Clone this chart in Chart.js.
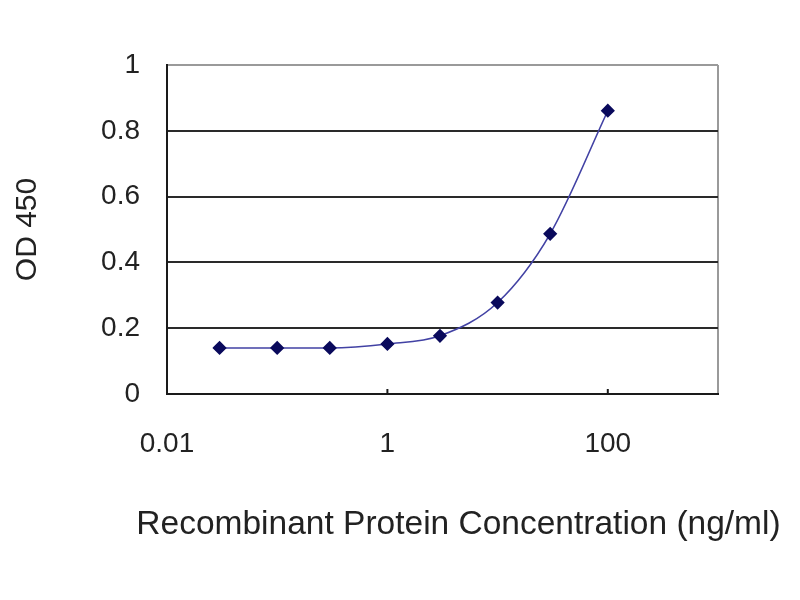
<!DOCTYPE html>
<html>
<head>
<meta charset="utf-8">
<script src="https://cdn.jsdelivr.net/npm/chart.js@4"></script>
<style>
  html, body { margin: 0; padding: 0; background: #fff; }
  #wrap { width: 800px; height: 600px; }
</style>
</head>
<body>
<div id="wrap"><canvas id="c" width="800" height="600"></canvas></div>
<script>
const concentrations = [0.03, 0.1, 0.3, 1, 3, 10, 30, 100];
const od450 = [0.14, 0.14, 0.14, 0.152, 0.177, 0.278, 0.487, 0.861];
const xTickValues = [0.01, 0.1, 1, 10, 100, 1000];
const xTickLabels = ['0.01', '', '1', '', '100', ''];
const yTickValues = [0, 0.2, 0.4, 0.6, 0.8, 1];
const yTickLabels = ['0', '0.2', '0.4', '0.6', '0.8', '1'];
const xTitle = 'Recombinant Protein Concentration (ng/ml)';
const yTitle = 'OD 450';

const points = concentrations.map((x, i) => ({ x: x, y: od450[i] }));

// x-axis title drawn a little right of the plot centre, as in the original
const xTitlePlugin = {
  id: 'xTitlePlugin',
  afterDraw(chart) {
    const { ctx, chartArea } = chart;
    ctx.save();
    ctx.font = '33.5px "Liberation Sans", Arial, sans-serif';
    ctx.fillStyle = '#222';
    ctx.textAlign = 'center';
    ctx.textBaseline = 'middle';
    ctx.fillText(xTitle, (chartArea.left + chartArea.right) / 2 + 16, chartArea.bottom + 131);
    ctx.restore();
  }
};

// small inward tick marks on the x axis at labelled decades
const xTickMarks = {
  id: 'xTickMarks',
  afterDraw(chart) {
    const { ctx, chartArea, scales } = chart;
    ctx.save();
    ctx.strokeStyle = '#1a1a1a';
    ctx.lineWidth = 2;
    xTickValues.forEach((v, i) => {
      if (!xTickLabels[i]) return;
      const px = scales.x.getPixelForValue(v);
      ctx.beginPath();
      ctx.moveTo(px, chartArea.bottom);
      ctx.lineTo(px, chartArea.bottom - 5);
      ctx.stroke();
    });
    ctx.restore();
  }
};

new Chart(document.getElementById('c'), {
  type: 'line',
  data: {
    datasets: [{
      data: points,
      borderColor: '#4242a4',
      borderWidth: 1.6,
      backgroundColor: '#0a0a5c',
      pointBackgroundColor: '#0a0a5c',
      pointBorderColor: '#0a0a5c',
      pointStyle: 'rectRot',
      pointRadius: 6,
      cubicInterpolationMode: 'monotone',
      fill: false
    }]
  },
  plugins: [xTitlePlugin, xTickMarks],
  options: {
    responsive: false,
    animation: false,
    layout: { padding: { top: 65, right: 82, left: 0, bottom: 0 } },
    plugins: { legend: { display: false }, tooltip: { enabled: false } },
    scales: {
      x: {
        type: 'logarithmic',
        min: 0.01,
        max: 1000,
        afterBuildTicks: (s) => { s.ticks = xTickValues.map(v => ({ value: v })); },
        afterFit: (s) => { s.height = 206; },
        ticks: {
          autoSkip: false,
          maxRotation: 0,
          padding: 33,
          color: '#222',
          font: { family: 'Liberation Sans', size: 28 },
          callback: (v) => { const i = xTickValues.indexOf(v); return i >= 0 ? xTickLabels[i] : ''; }
        },
        grid: {
          drawTicks: false,
          color: (ctx) => (ctx.tick && ctx.tick.value === 1000) ? '#9a9a9a' : 'rgba(0,0,0,0)',
          lineWidth: 2
        },
        border: { display: true, color: '#1a1a1a', width: 2 },
        title: { display: false }
      },
      y: {
        type: 'linear',
        min: 0,
        max: 1,
        afterBuildTicks: (s) => { s.ticks = yTickValues.map(v => ({ value: v })); },
        afterFit: (s) => { s.width = 167; },
        ticks: {
          padding: 27,
          color: '#222',
          font: { family: 'Liberation Sans', size: 28 },
          callback: (v) => { const i = yTickValues.indexOf(v); return i >= 0 ? yTickLabels[i] : ''; }
        },
        grid: {
          drawTicks: false,
          color: (ctx) => (ctx.tick && ctx.tick.value === 1) ? '#9a9a9a' : '#2a2a2a',
          lineWidth: 2
        },
        border: { display: true, color: '#1a1a1a', width: 2 },
        title: {
          display: true,
          text: yTitle,
          color: '#222',
          font: { family: 'Liberation Sans', size: 30 },
          padding: { top: 10, bottom: 10 }
        }
      }
    }
  }
});
</script>
</body>
</html>
